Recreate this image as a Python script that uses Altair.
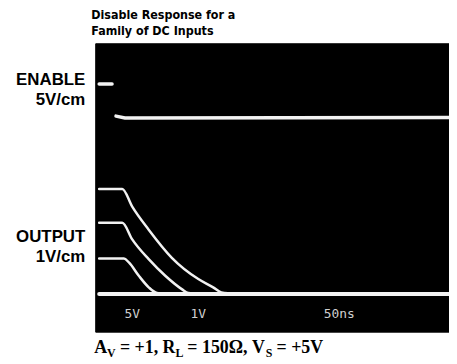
import altair as alt
import pandas as pd

# ---- data (x in ns, 50 ns/div over 10 div; y in scope divisions, 8 div) ----
enable_pre_x = [5.6, 23.8]
enable_pre_y = [6.87, 6.87]
enable_post_x = [29.4, 42.0, 500.0]
enable_post_y = [5.98, 5.93, 5.94]

out1_x = [5.6, 38.2, 52.3, 75.6, 108.3, 145.7, 166.7, 178.3, 200.0]
out1_y = [3.96, 3.96, 3.47, 2.83, 2.05, 1.46, 1.23, 1.09, 1.05]
out2_x = [5.6, 38.2, 52.3, 75.6, 99.0, 122.3, 131.7, 145.0]
out2_y = [3.02, 3.02, 2.56, 2.01, 1.55, 1.18, 1.07, 1.05]
out3_x = [5.6, 40.6, 47.6, 61.6, 75.6, 87.3, 98.0]
out3_y = [2.03, 2.03, 1.92, 1.55, 1.23, 1.07, 1.05]
base_x = [5.6, 500.0]
base_y = [1.045, 1.045]

readout_text = ["5V", "1V", "50ns"]
readout_x = [52.5, 145.7, 345.0]
readout_y = [0.5, 0.5, 0.5]


def frame(name, xs, ys):
    return pd.DataFrame({"x": xs, "y": ys, "trace": name, "i": range(len(xs))})


xs = alt.Scale(domain=[0, 500], nice=False, zero=False)
ys = alt.Scale(domain=[0, 8], nice=False, zero=False)


def line(df, width, interp="monotone", color="#f2f2f2"):
    return alt.Chart(df).mark_line(
        color=color, strokeWidth=width, interpolate=interp, strokeCap="round"
    ).encode(
        x=alt.X("x:Q", scale=xs, axis=None),
        y=alt.Y("y:Q", scale=ys, axis=None),
        detail="trace:N",
        order="i:Q",
    )


curves = pd.concat([
    frame("out1", out1_x, out1_y),
    frame("out2", out2_x, out2_y),
    frame("out3", out3_x, out3_y),
])
enable = pd.concat([
    frame("pre", enable_pre_x, enable_pre_y),
    frame("post", enable_post_x, enable_post_y),
])

layers = [
    line(frame("base", base_x, base_y), 4, "linear"),
    line(curves, 2.5),
    line(enable, 3.5, "linear"),
    alt.Chart(pd.DataFrame({"t": readout_text, "x": readout_x, "y": readout_y}))
    .mark_text(font="DejaVu Sans Mono", fontSize=13, color="#d0d0d0", baseline="middle")
    .encode(x=alt.X("x:Q", scale=xs, axis=None), y=alt.Y("y:Q", scale=ys, axis=None), text="t:N"),
]


def label(text, x, y, size, font, align="left", weight="bold"):
    return alt.Chart(alt.Data(values=[{}])).mark_text(
        text=text, align=align, baseline="alphabetic", font=font,
        fontSize=size, fontWeight=weight, color="black"
    ).encode(x=alt.value(x), y=alt.value(y))


sans = "Liberation Sans"
narrow = "Liberation Sans Narrow, DejaVu Sans Condensed, Liberation Sans"
serif = "Liberation Serif"

layers += [
    label("Disable Response for a", -4, -24, 12.5, narrow),
    label("Family of DC Inputs", -4, -8, 12.5, narrow),
    label("ENABLE", -10, 42, 17, sans, align="right"),
    label("5V/cm", -10, 62, 17, sans, align="right"),
    label("OUTPUT", -10, 201, 17, sans, align="right"),
    label("1V/cm", -10, 221, 17, sans, align="right"),
    # caption: A_V = +1, R_L = 150Ω, V_S = +5V
    label("A", -1, 313, 18, serif),
    label("V", 12, 317, 12, serif),
    label("= +1, R", 25, 313, 18, serif),
    label("L", 81, 317, 12, serif),
    label("= 150Ω, V", 93, 313, 18, serif),
    label("S", 172, 317, 12, serif),
    label("= +5V", 183, 313, 18, serif),
]

chart = alt.layer(*layers).properties(
    width=357, height=291,
    autosize=alt.AutoSizeParams(type="none"),
    padding={"left": 88, "top": 34, "right": 0, "bottom": 27},
    background="white",
).configure_view(fill="black", stroke="black")

chart.save("out.html", embed_options={"renderer": "svg", "actions": False})
